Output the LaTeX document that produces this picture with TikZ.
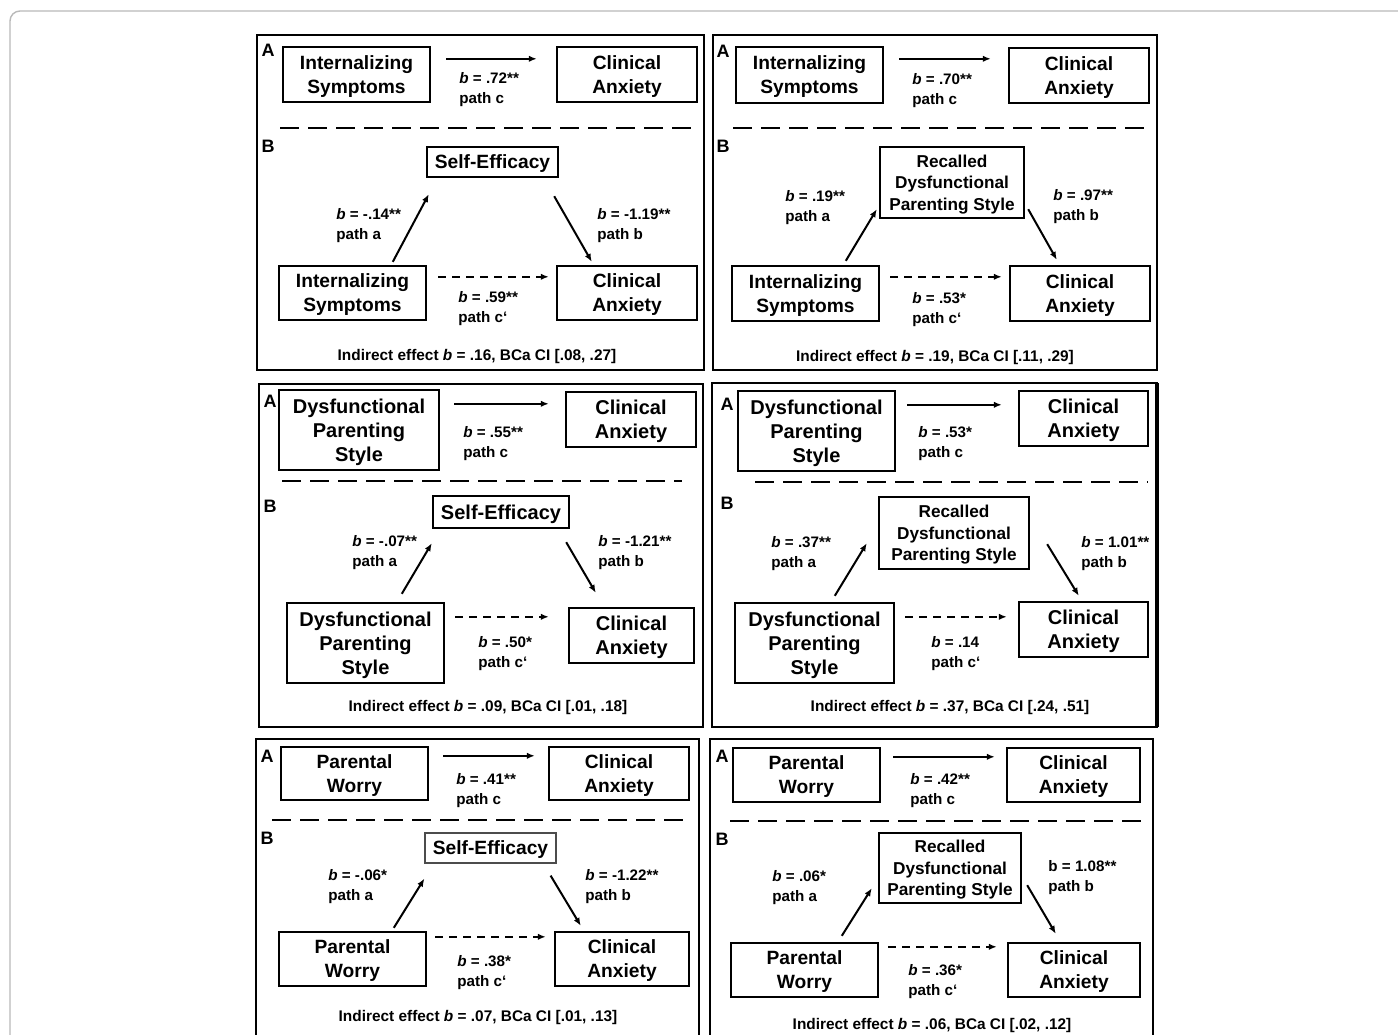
\documentclass[tikz,border=0pt]{standalone}
\usepackage{fontspec}
\setmainfont{Liberation Sans}
\usetikzlibrary{arrows.meta,calc}
\newcommand\bb{\textit{b}}
\begin{document}
\begin{tikzpicture}[x=0.5pt,y=-0.5pt,
 box/.style={draw, line width=1.2pt, align=center, inner sep=0pt, text depth=-0.6pt, font=\fontsize{9.6}{12}\selectfont\bfseries},
 sz/.style 2 args={minimum width=#1*0.5pt, minimum height=#2*0.5pt},
 med/.style={font=\fontsize{8.6}{10.75}\selectfont\bfseries},
 big/.style={font=\fontsize{10}{12}\selectfont\bfseries},
 lab/.style={anchor=west, align=left, inner sep=0pt, yshift=-1.2pt, font=\fontsize{7.6}{10}\selectfont\bfseries},
 ind/.style={inner sep=0pt, yshift=-1.4pt, font=\fontsize{7.7}{9.5}\selectfont\bfseries},
 plab/.style={inner sep=0pt, yshift=-0.5pt, font=\fontsize{9}{10}\selectfont\bfseries},
 arr/.style={line width=1pt, -{Latex[length=4pt,width=3.2pt]}},
 darr/.style={arr, dash pattern=on 4pt off 3pt},
 sepline/.style={line width=1.3pt, dash pattern=on 9.5pt off 4.5pt},
 pframe/.style={line width=1pt},
]
\useasboundingbox (0,0) rectangle (1398,1034);
\clip (0,0) rectangle (1398,1034);
\fill[white] (0,0) rectangle (1398,1034);
\draw[gray!55, line width=0.7pt, rounded corners=5pt] (10,11) rectangle (1430,1070);

% ---------------- Panel 1 ----------------
\draw[pframe] (257,35) rectangle (704,370);
\node[plab] (p1A) at (268,49) {A};
\node[plab] (p1B) at (268,145) {B};
\node[box, sz={147}{55}] (p1x) at (356.5,74.5) {Internalizing\\Symptoms};
\node[box, sz={140}{55}] (p1y) at (627,74.5) {Clinical\\Anxiety};
\draw[arr] ($(p1x.north east)+(15,13)$) -- ($(p1y.north west)+(-19,13)$);
\node[lab] (p1c) at (459,87) {\bb{} = .72**\\path c};
\draw[sepline] (280,128) -- (697,128);
\node[box, sz={131}{30}] (p1m) at (492.5,162) {Self-Efficacy};
\node[box, sz={147}{54}] (p1xb) at (352.5,293) {Internalizing\\Symptoms};
\node[box, sz={140}{54}] (p1yb) at (627,293) {Clinical\\Anxiety};
\draw[arr] ($(p1xb.north west)+(115,-3)$) -- ($(p1m.south west)+(3,16)$);
\node[lab] (p1a) at (336,223.5) {\bb{} = -.14**\\path a};
\draw[arr] ($(p1m.south east)+(-5,18)$) -- ($(p1yb.north west)+(36,-3)$);
\node[lab] (p1b) at (597,223.5) {\bb{} = -1.19**\\path b};
\draw[darr] ($(p1xb.north east)+(11,12)$) -- ($(p1yb.north west)+(-7,12)$);
\node[lab] (p1cp) at (458,306.5) {\bb{} = .59**\\path c‘};
\node[ind] (p1i) at (477,354) {Indirect effect \bb{} = .16, BCa CI [.08, .27]};

% ---------------- Panel 2 ----------------
\draw[pframe] (713,35) rectangle (1157,370);
\node[plab] (p2A) at (723,50) {A};
\node[plab] (p2B) at (723,145) {B};
\node[box, sz={147}{56}] (p2x) at (809.5,75) {Internalizing\\Symptoms};
\node[box, sz={140}{55}] (p2y) at (1079,75.5) {Clinical\\Anxiety};
\draw[arr] ($(p2x.north east)+(15,13)$) -- ($(p2y.north west)+(-17,12)$);
\node[lab] (p2c) at (912,88) {\bb{} = .70**\\path c};
\draw[sepline] (733,128) -- (1148,128);
\node[box, med, sz={144}{71}] (p2m) at (952,182.5) {Recalled\\Dysfunctional\\Parenting Style};
\node[box, sz={147}{55}] (p2xb) at (805.5,293.5) {Internalizing\\Symptoms};
\node[box, sz={140}{55}] (p2yb) at (1080,293.5) {Clinical\\Anxiety};
\draw[arr] ($(p2xb.north west)+(115,-4)$) -- ($(p2m.south west)+(-2,-10)$);
\node[lab] (p2a) at (785,205) {\bb{} = .19**\\path a};
\draw[arr] ($(p2m.south east)+(3,-10)$) -- ($(p2yb.north west)+(48,-5)$);
\node[lab] (p2b) at (1053,204.5) {\bb{} = .97**\\path b};
\draw[darr] ($(p2xb.north east)+(10,12)$) -- ($(p2yb.north west)+(-7,12)$);
\node[lab] (p2cp) at (912,307) {\bb{} = .53*\\path c‘};
\node[ind] (p2i) at (935,355) {Indirect effect \bb{} = .19, BCa CI [.11, .29]};

% ---------------- Panel 3 ----------------
\draw[pframe] (259,384) rectangle (703,727);
\node[plab] (p3A) at (270,400) {A};
\node[plab] (p3B) at (270,505) {B};
\node[box, big, sz={160}{80}] (p3x) at (359,430) {Dysfunctional\\Parenting\\Style};
\node[box, big, sz={130}{55}] (p3y) at (631,419.5) {Clinical\\Anxiety};
\draw[arr] ($(p3x.north east)+(14,15)$) -- ($(p3y.north west)+(-16,13)$);
\node[lab] (p3c) at (463,441.5) {\bb{} = .55**\\path c};
\draw[sepline] (282,481) -- (682,481);
\node[box, big, sz={136}{32}] (p3m) at (501,512) {Self-Efficacy};
\node[box, big, sz={157}{80}] (p3xb) at (365.5,643) {Dysfunctional\\Parenting\\Style};
\node[box, big, sz={125}{55}] (p3yb) at (631.5,635.5) {Clinical\\Anxiety};
\draw[arr] ($(p3xb.north west)+(116,-8)$) -- ($(p3m.south west)+(0,14)$);
\node[lab] (p3a) at (352,550.5) {\bb{} = -.07**\\path a};
\draw[arr] ($(p3m.south east)+(-4,13)$) -- ($(p3yb.north west)+(28,-14)$);
\node[lab] (p3b) at (598,550.5) {\bb{} = -1.21**\\path b};
\draw[darr] ($(p3xb.north east)+(10,15)$) -- ($(p3yb.north west)+(-19,10)$);
\node[lab] (p3cp) at (478,651.5) {\bb{} = .50*\\path c‘};
\node[ind] (p3i) at (488,705) {Indirect effect \bb{} = .09, BCa CI [.01, .18]};

% ---------------- Panel 4 ----------------
\draw[pframe] (712,383) rectangle (1157,727);
\draw[line width=1.6pt] (1157,383) -- (1157,727);
\node[plab] (p4A) at (727,403) {A};
\node[plab] (p4B) at (727,502) {B};
\node[box, big, sz={157}{80}] (p4x) at (816.5,431) {Dysfunctional\\Parenting\\Style};
\node[box, big, sz={129}{55}] (p4y) at (1083.5,418.5) {Clinical\\Anxiety};
\draw[arr] ($(p4x.north east)+(11,15)$) -- ($(p4y.north west)+(-16,15)$);
\node[lab] (p4c) at (918,441) {\bb{} = .53*\\path c};
\draw[sepline] (755,482) -- (1148,482);
\node[box, med, sz={150}{72}] (p4m) at (954,533) {Recalled\\Dysfunctional\\Parenting Style};
\node[box, big, sz={159}{80}] (p4xb) at (814.5,643) {Dysfunctional\\Parenting\\Style};
\node[box, big, sz={129}{55}] (p4yb) at (1083.5,629.5) {Clinical\\Anxiety};
\draw[arr] ($(p4xb.north west)+(101,-6)$) -- ($(p4m.south west)+(-11,-27)$);
\node[lab] (p4a) at (771,551.5) {\bb{} = .37**\\path a};
\draw[arr] ($(p4m.south east)+(17,-26)$) -- ($(p4yb.north west)+(61,-5)$);
\node[lab] (p4b) at (1081,551.5) {\bb{} = 1.01**\\path b};
\draw[darr] ($(p4xb.north east)+(10,15)$) -- ($(p4yb.north west)+(-11,16)$);
\node[lab] (p4cp) at (931,651.5) {\bb{} = .14\\path c‘};
\node[ind] (p4i) at (950,705) {Indirect effect \bb{} = .37, BCa CI [.24, .51]};

% ---------------- Panel 5 ----------------
\draw[pframe] (256,1060) -- (256,739) -- (699,739) -- (699,1060);
\node[plab] (p5A) at (267,755) {A};
\node[plab] (p5B) at (267,837) {B};
\node[box, sz={147}{53}] (p5x) at (354.5,773.5) {Parental\\Worry};
\node[box, sz={140}{53}] (p5y) at (619,773.5) {Clinical\\Anxiety};
\draw[arr] ($(p5x.north east)+(14,10)$) -- ($(p5y.north west)+(-13,10)$);
\node[lab] (p5c) at (456,788) {\bb{} = .41**\\path c};
\draw[sepline] (272,820) -- (685,820);
\node[box, line width=0.6pt, draw=black!70, sz={131}{30}] (p5m) at (490.5,848) {Self-Efficacy};
\node[box, sz={147}{54}] (p5xb) at (352.5,959) {Parental\\Worry};
\node[box, sz={134}{54}] (p5yb) at (622,959) {Clinical\\Anxiety};
\draw[arr] ($(p5xb.north west)+(116,-3)$) -- ($(p5m.south west)+(0,15)$);
\node[lab] (p5a) at (328,884.5) {\bb{} = -.06*\\path a};
\draw[arr] ($(p5m.south east)+(-6,12)$) -- ($(p5yb.north west)+(27,-5)$);
\node[lab] (p5b) at (585,884.5) {\bb{} = -1.22**\\path b};
\draw[darr] ($(p5xb.north east)+(8,6)$) -- ($(p5yb.north west)+(-8,6)$);
\node[lab] (p5cp) at (457,970.5) {\bb{} = .38*\\path c‘};
\node[ind] (p5i) at (478,1015) {Indirect effect \bb{} = .07, BCa CI [.01, .13]};

% ---------------- Panel 6 ----------------
\draw[pframe] (710,1060) -- (710,739) -- (1153,739) -- (1153,1060);
\node[plab] (p6A) at (722,755) {A};
\node[plab] (p6B) at (722,838) {B};
\node[box, sz={147}{54}] (p6x) at (806.5,775) {Parental\\Worry};
\node[box, sz={133}{54}] (p6y) at (1073.5,775) {Clinical\\Anxiety};
\draw[arr] ($(p6x.north east)+(12,10)$) -- ($(p6y.north west)+(-11,10)$);
\node[lab] (p6c) at (910,788.5) {\bb{} = .42**\\path c};
\draw[sepline] (730,821) -- (1143,821);
\node[box, med, sz={142}{70}] (p6m) at (950,868) {Recalled\\Dysfunctional\\Parenting Style};
\node[box, sz={147}{54}] (p6xb) at (804.5,970) {Parental\\Worry};
\node[box, sz={132}{54}] (p6yb) at (1074,970) {Clinical\\Anxiety};
\draw[arr] ($(p6xb.north west)+(112,-6)$) -- ($(p6m.south west)+(-6,-16)$);
\node[lab] (p6a) at (772,885.5) {\bb{} = .06*\\path a};
\draw[arr] ($(p6m.south east)+(5,-19)$) -- ($(p6yb.north west)+(49,-8)$);
\node[lab] (p6b) at (1048,875.5) {b = 1.08**\\path b};
\draw[darr] ($(p6xb.north east)+(9,5)$) -- ($(p6yb.north west)+(-10,5)$);
\node[lab] (p6cp) at (908,979.5) {\bb{} = .36*\\path c‘};
\node[ind] (p6i) at (932,1023) {Indirect effect \bb{} = .06, BCa CI [.02, .12]};
\end{tikzpicture}
\end{document}
